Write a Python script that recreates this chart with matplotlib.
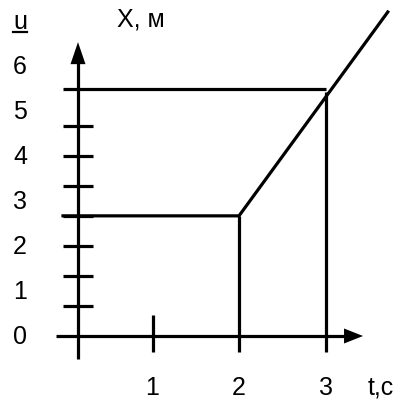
import matplotlib
matplotlib.use("Agg")
import matplotlib.pyplot as plt
from matplotlib.patches import Polygon

# values
y_labels = [0, 1, 2, 3, 4, 5, 6]
t_labels = [1, 2, 3]
y_marks = [0.67, 1.33, 2.0, 2.67, 3.33, 4.0, 4.67]  # short ticks on the X axis
t_marks = [1]                                          # short tick on the t axis
graph_t = [2.0, 2.0, 3.72]       # plateau corner, then the rising part
graph_x = [2.67, 2.67, 7.2]
x_guide = 5.5                    # horizontal guide level
t_guide = 3.0                    # vertical guide time

# pixel scale of the drawing: t -> 66 + 86.5*t, X -> 337 - 45*X
PX_T = 86.5
PX_X = 45.0
T0 = 66.0
X0 = 337.0
W, H = 402, 406
AXIS_T = (78 - T0) / PX_T  # vertical axis sits a bit right of t=0


def dt(px):
    return px / PX_T


def dx(px):
    return px / PX_X


plt.rcParams["font.family"] = ["Liberation Sans", "DejaVu Sans"]

fig = plt.figure(figsize=(W / 100, H / 100), dpi=100)
ax = fig.add_axes([0, 0, 1, 1])
ax.set_xlim(-T0 / PX_T, (W - T0) / PX_T)
ax.set_ylim((X0 - H) / PX_X, X0 / PX_X)
ax.axis("off")

lw = 2.3
kw = dict(color="black", lw=lw, solid_capstyle="butt")

# axes
ax.plot([AXIS_T - dt(22), 3.434 - dt(16)], [0, 0], **kw)
ax.plot([AXIS_T, AXIS_T], [-dx(23), 6.53 - dx(20)], **kw)
ax.add_patch(Polygon([(3.434, 0), (3.434 - dt(19), dx(7.5)), (3.434 - dt(19), -dx(7.5))],
                     closed=True, color="black", lw=0))
ax.add_patch(Polygon([(AXIS_T, 6.53), (AXIS_T - dt(7.5), 6.53 - dx(22)), (AXIS_T + dt(7.5), 6.53 - dx(22))],
                     closed=True, color="black", lw=0))

# short ticks
for y in y_marks:
    ax.plot([AXIS_T - dt(15), AXIS_T + dt(15)], [y, y], **kw)
for t in t_marks:
    ax.plot([t, t], [dx(21), -dx(16)], **kw)

# graph and guides
ax.plot([AXIS_T - dt(15)] + graph_t[1:], [graph_x[0]] + graph_x[1:], color="black", lw=lw,
        solid_joinstyle="miter")
ax.plot([graph_t[1], graph_t[1]], [graph_x[1], -dx(16)], **kw)
ax.plot([AXIS_T - dt(15), t_guide], [x_guide, x_guide], **kw)
ax.plot([t_guide, t_guide], [x_guide - dx(3), -dx(16)], **kw)

# labels
fs = 18
for v in y_labels:
    ax.text(dt(20 - T0), v, str(v), fontsize=fs, ha="center", va="center")
for v in t_labels:
    ax.text(v, dx(X0 - 388), str(v), fontsize=fs, ha="center", va="center")
ax.text(dt(381 - T0), dx(X0 - 388), "t,c", fontsize=fs, ha="center", va="center")
ax.text(dt(141 - T0), dx(X0 - 20), "X, м", fontsize=fs, ha="center", va="center")
ax.text(dt(20 - T0), dx(X0 - 22), "u", fontsize=fs, ha="center", va="center")
ax.plot([dt(13 - T0), dt(27 - T0)], [dx(X0 - 33), dx(X0 - 33)], color="black", lw=1.6)

fig.savefig("out.png", dpi=100)
